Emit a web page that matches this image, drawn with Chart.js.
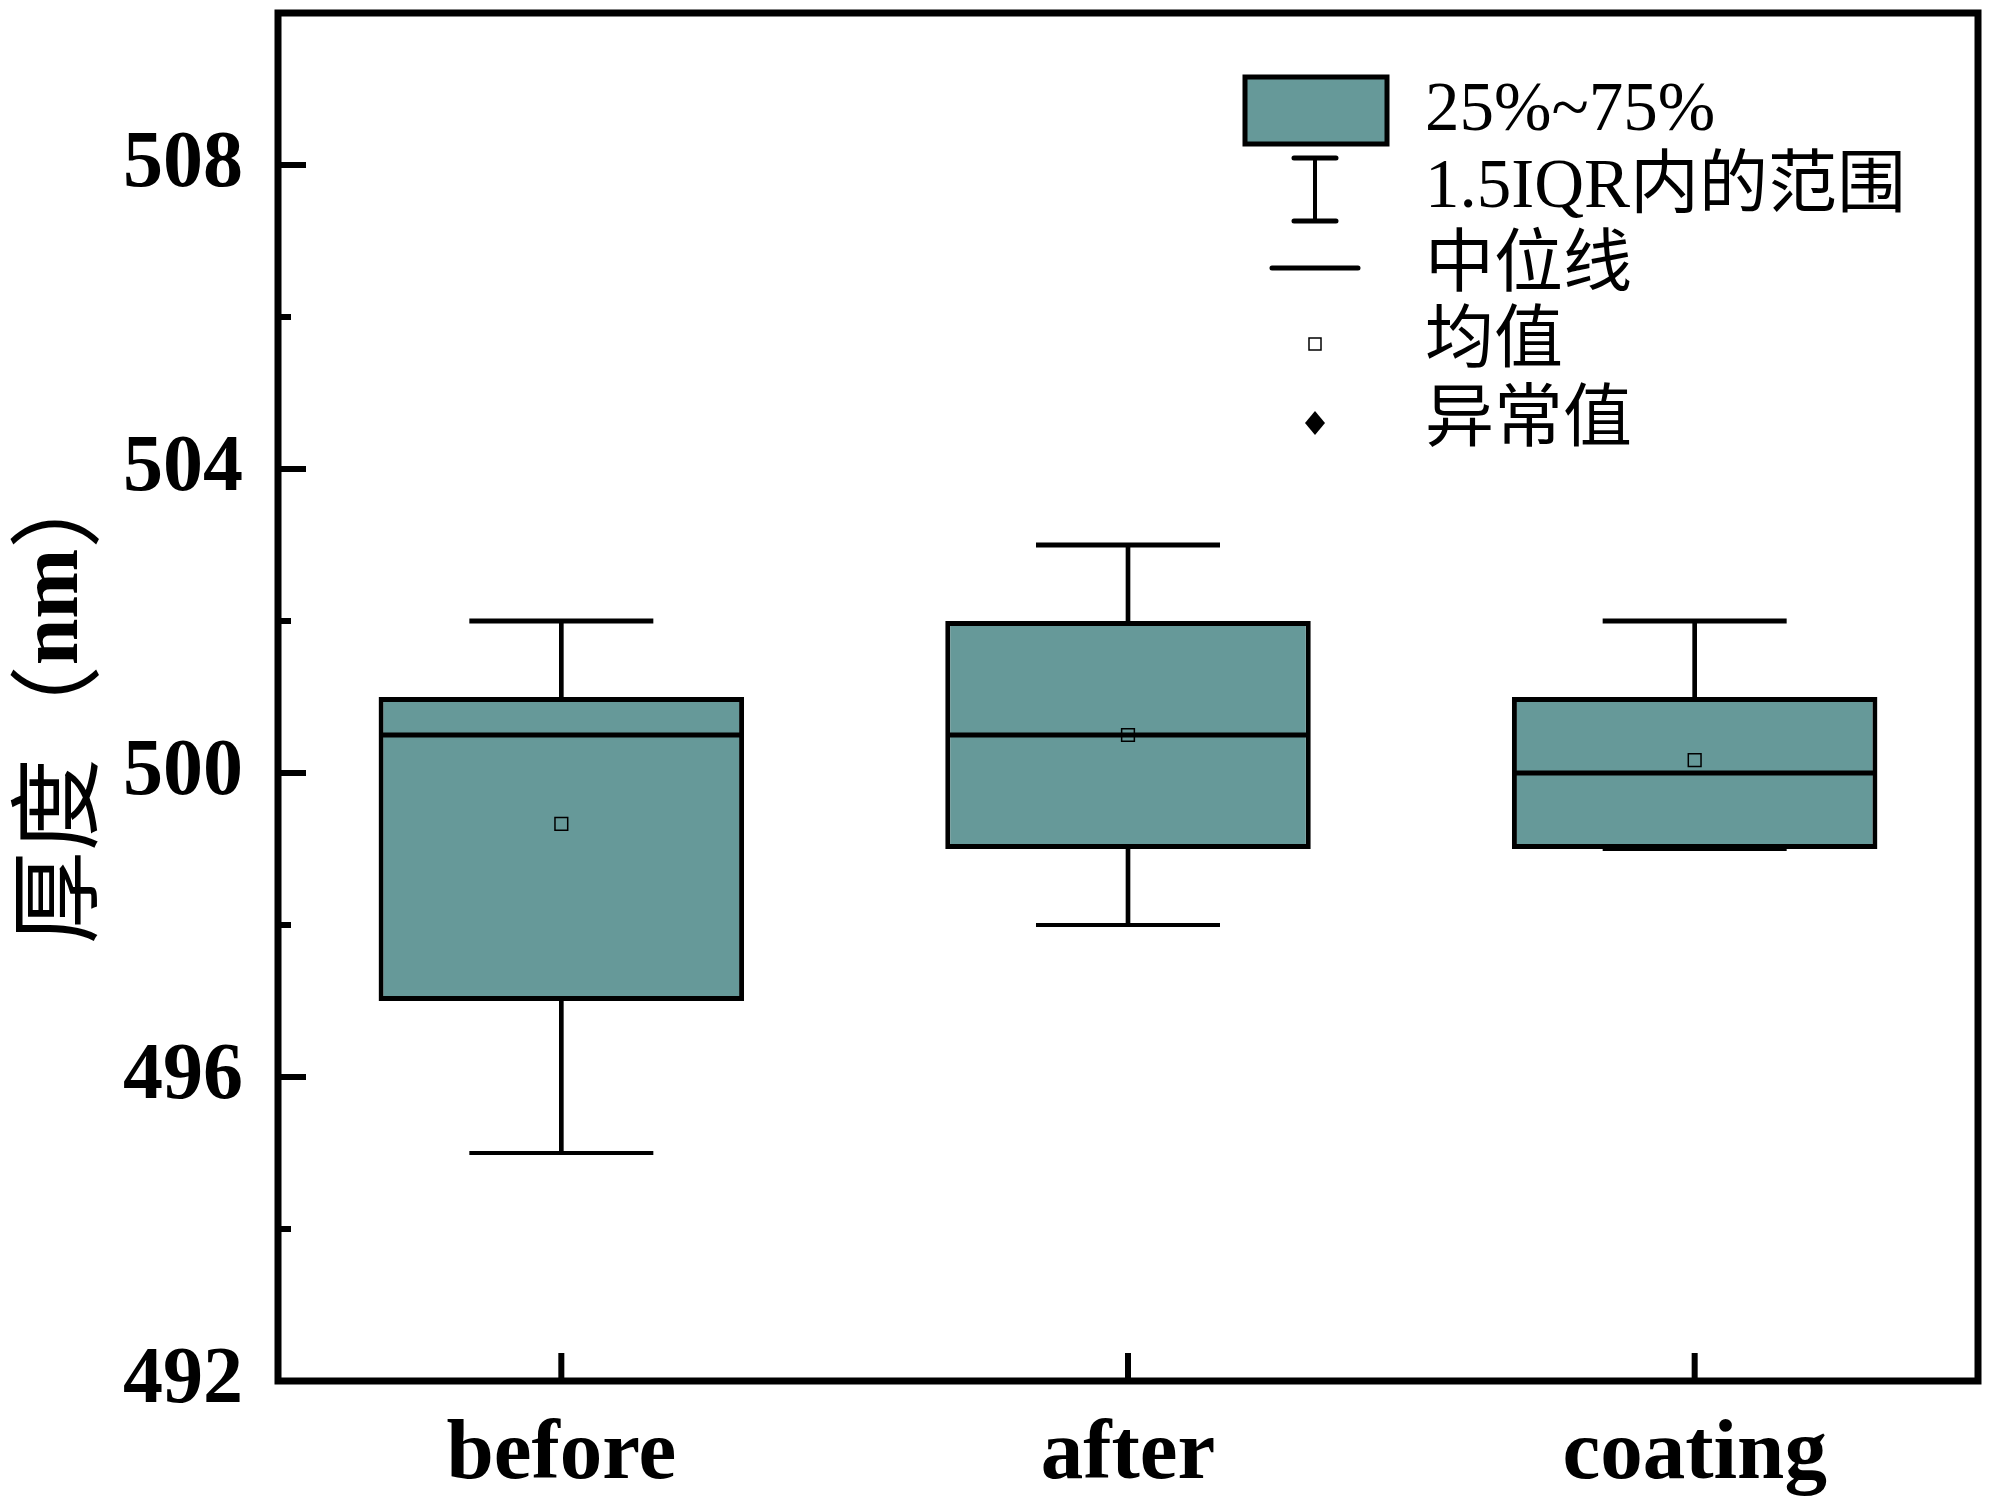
<!DOCTYPE html>
<html lang="zh">
<head>
  <meta charset="UTF-8" />
  <title>厚度箱线图</title>
  <script src="https://cdn.jsdelivr.net/npm/chart.js"></script>
  <style>
    body {
      margin: 0;
      background: #fff;
    }

    #wrap {
      width: 2000px;
      height: 1508px;
    }
  </style>
</head>
<body>

<div id="wrap">
  <canvas id="boxChart" width="2000" height="1508"></canvas>
</div>

<script>
  // values
  const categories = ["before", "after", "coating"];
  const q1 = [497, 499, 499];
  const q3 = [501, 502, 501];
  const medians = [500.5, 500.5, 500];
  const whiskerLow = [495, 498, 499];
  const whiskerHigh = [502, 503, 502];
  const means = [499.33, 500.5, 500.17];
  const yTicks = [492, 496, 500, 504, 508];
  const yMinorTicks = [494, 498, 502, 506];
  const legendLabels = ["25%~75%", "1.5IQR内的范围", "中位线", "均值", "异常值"];

  const boxColor = "#669999";

  // frame, inward ticks, y title and the legend
  const decorPlugin = {
    id: "decor",
    afterDraw(chart) {
      const ctx = chart.ctx;
      const area = chart.chartArea;
      const x = chart.scales.x;
      const y = chart.scales.y;

      ctx.save();
      ctx.strokeStyle = "#000";
      ctx.lineWidth = 7;
      ctx.strokeRect(area.left, area.top, area.right - area.left, area.bottom - area.top);

      ctx.lineWidth = 6;
      ctx.beginPath();
      yTicks.forEach(v => {
        const py = y.getPixelForValue(v);
        ctx.moveTo(area.left, py);
        ctx.lineTo(area.left + 28, py);
      });
      yMinorTicks.forEach(v => {
        const py = y.getPixelForValue(v);
        ctx.moveTo(area.left, py);
        ctx.lineTo(area.left + 13, py);
      });
      categories.forEach((c, i) => {
        const px = x.getPixelForValue(i);
        ctx.moveTo(px, area.bottom);
        ctx.lineTo(px, area.bottom - 28);
      });
      ctx.stroke();

      // y axis title, mixed fonts
      ctx.translate(55, 700);
      ctx.rotate(-Math.PI / 2);
      ctx.fillStyle = "#000";
      ctx.textBaseline = "middle";
      const parts = [
        ["厚度（", "93px 'Noto Sans CJK SC'"],
        ["nm", "bold 84px 'Liberation Serif'"],
        ["）", "93px 'Noto Sans CJK SC'"]
      ];
      let total = 0;
      parts.forEach(p => { ctx.font = p[1]; total += ctx.measureText(p[0]).width; });
      let cx = -total / 2;
      parts.forEach(p => {
        ctx.font = p[1];
        ctx.fillText(p[0], cx, 0);
        cx += ctx.measureText(p[0]).width;
      });
      ctx.restore();

      // legend
      ctx.save();
      ctx.strokeStyle = "#000";
      ctx.fillStyle = boxColor;
      ctx.lineWidth = 5;
      ctx.fillRect(1245, 77, 142, 67);
      ctx.strokeRect(1245, 77, 142, 67);

      ctx.lineCap = "round";
      ctx.beginPath();
      ctx.moveTo(1294, 158); ctx.lineTo(1336, 158);
      ctx.moveTo(1294, 221); ctx.lineTo(1336, 221);
      ctx.moveTo(1272, 268); ctx.lineTo(1358, 268);
      ctx.stroke();
      ctx.lineWidth = 4;
      ctx.beginPath();
      ctx.moveTo(1315, 158); ctx.lineTo(1315, 221);
      ctx.stroke();

      ctx.lineWidth = 1.5;
      ctx.strokeRect(1309, 338, 12, 12);

      ctx.fillStyle = "#000";
      ctx.beginPath();
      ctx.moveTo(1315, 411); ctx.lineTo(1325, 423); ctx.lineTo(1315, 435); ctx.lineTo(1305, 423);
      ctx.closePath();
      ctx.fill();

      ctx.font = "69px 'Liberation Serif', 'Noto Sans CJK SC'";
      ctx.textBaseline = "middle";
      const rows = [112, 189, 268, 344, 423];
      legendLabels.forEach((t, i) => ctx.fillText(t, 1425, rows[i]));
      ctx.restore();
    }
  };

  const pointSet = (data, style, radius, width, order) => ({
    type: "line",
    data: data,
    showLine: false,
    pointStyle: style,
    pointRadius: radius,
    pointBorderWidth: width,
    pointBorderColor: "#000",
    pointBackgroundColor: "rgba(0,0,0,0)",
    clip: false,
    order: order
  });

  new Chart(document.getElementById("boxChart").getContext("2d"), {
    type: "bar",
    data: {
      labels: categories,
      datasets: [
        {
          data: categories.map((c, i) => [whiskerLow[i], whiskerHigh[i]]),
          backgroundColor: "#000",
          barThickness: 4,
          grouped: false,
          order: 3
        },
        {
          data: categories.map((c, i) => [q1[i], q3[i]]),
          backgroundColor: boxColor,
          borderColor: "#000",
          borderWidth: 5,
          borderSkipped: false,
          barPercentage: 0.645,
          categoryPercentage: 1,
          grouped: false,
          order: 2
        },
        pointSet(whiskerLow, "line", 92, 4, 4),
        pointSet(whiskerHigh, "line", 92, 5, 4),
        pointSet(medians, "line", 179, 5, 1),
        pointSet(means, "rect", 9, 1.5, 0)
      ]
    },
    options: {
      responsive: false,
      animation: false,
      events: [],
      layout: { autoPadding: false, padding: { top: 13, right: 22, left: 0, bottom: 0 } },
      plugins: {
        legend: { display: false },
        tooltip: { enabled: false }
      },
      scales: {
        x: {
          grid: { display: false },
          border: { display: false },
          ticks: { color: "#000", font: { family: "Liberation Serif", size: 85, weight: "bold" }, padding: 16 },
          afterFit(s) { s.height = 127; s.paddingLeft = 0; s.paddingRight = 0; }
        },
        y: {
          min: 492,
          max: 510,
          afterBuildTicks(s) { s.ticks = yTicks.map(v => ({ value: v })); },
          grid: { display: false },
          border: { display: false },
          ticks: { color: "#000", font: { family: "Liberation Serif", size: 80, weight: "bold" }, padding: 27 },
          afterFit(s) { s.width = 278; s.paddingTop = 0; s.paddingBottom = 0; }
        }
      }
    },
    plugins: [decorPlugin]
  });
</script>

</body>
</html>
